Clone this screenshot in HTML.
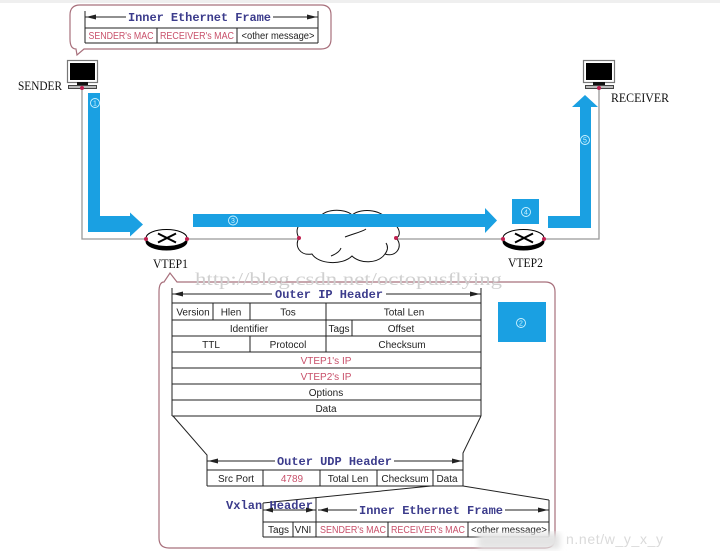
<!DOCTYPE html>
<html><head><meta charset="utf-8"><style>
html,body{margin:0;padding:0;background:#fff;}
svg{display:block;}
.t{font-family:"Liberation Sans",Arial,sans-serif;font-size:10px;fill:#222;text-anchor:middle;}
.r{fill:#c8506a;}
.h{font-family:"Liberation Mono","Courier New",monospace;font-size:12px;font-weight:bold;fill:#3c3c8c;}
.s{font-family:"Liberation Serif",serif;font-size:12.5px;fill:#111;}
.n{font-family:"Liberation Sans",sans-serif;font-size:7px;fill:#cdf2ff;text-anchor:middle;}
</style></head><body>
<svg width="720" height="551" viewBox="0 0 720 551" xmlns="http://www.w3.org/2000/svg">
<defs>
<filter id="bl"><feGaussianBlur stdDeviation="3"/></filter>
</defs>
<rect x="0" y="0" width="720" height="551" fill="#fff"/>
<rect x="0" y="0" width="720" height="3" fill="#efefef"/>

<!-- top bubble -->
<path d="M80,5 H321 Q331,5 331,15 V39 Q331,49 321,49 H84 L77,55 L76,49 Q70,49 70,39 V15 Q70,5 80,5 Z" fill="#fff" stroke="#a8707c" stroke-width="1.2"/>
<g stroke="#222" stroke-width="1" fill="none">
<line x1="85" y1="17" x2="126" y2="17"/><line x1="273" y1="17" x2="318" y2="17"/>
<line x1="85" y1="11" x2="85" y2="43"/><line x1="318" y1="11" x2="318" y2="43"/>
<line x1="85" y1="28" x2="318" y2="28"/><line x1="85" y1="43" x2="318" y2="43"/>
<line x1="157" y1="28" x2="157" y2="43"/><line x1="237" y1="28" x2="237" y2="43"/>
</g>
<polygon points="86,17 96,14.5 96,19.5" fill="#222"/><polygon points="317,17 307,14.5 307,19.5" fill="#222"/>
<text class="h" x="128" y="21" textLength="143">Inner Ethernet Frame</text>
<text class="t r" x="121" y="39" textLength="65" lengthAdjust="spacingAndGlyphs">SENDER's MAC</text>
<text class="t r" x="197" y="39" textLength="74" lengthAdjust="spacingAndGlyphs">RECEIVER's MAC</text>
<text class="t" x="278" y="39" textLength="73" lengthAdjust="spacingAndGlyphs">&lt;other message&gt;</text>

<!-- gray connectors -->
<g stroke="#999" stroke-width="1.3" fill="none">
<polyline points="82,88 82,239 146,239"/>
<line x1="187" y1="239" x2="299" y2="239"/>
<line x1="396" y1="239" x2="503" y2="239"/>
<polyline points="544,239 599,239 599,88"/>
</g>

<!-- sender monitor -->
<rect x="67.5" y="60.5" width="30" height="22" fill="#fff" stroke="#777" stroke-width="1.2"/>
<rect x="70" y="63" width="25" height="17" fill="#000"/>
<rect x="77" y="82" width="11" height="4" fill="#111"/>
<rect x="68.5" y="85.5" width="28" height="3" fill="#bbb" stroke="#444" stroke-width="1"/>
<text class="s" x="18" y="90" textLength="44" lengthAdjust="spacingAndGlyphs">SENDER</text>

<!-- receiver monitor -->
<rect x="583.5" y="60.5" width="31" height="22" fill="#fff" stroke="#777" stroke-width="1.2"/>
<rect x="586" y="63" width="26" height="17" fill="#000"/>
<rect x="593" y="82" width="12" height="4" fill="#111"/>
<rect x="585.5" y="85.5" width="28" height="3" fill="#bbb" stroke="#444" stroke-width="1"/>
<text class="s" x="611" y="102" textLength="58" lengthAdjust="spacingAndGlyphs">RECEIVER</text>

<!-- cloud -->
<path d="M299,238 C292,226 305,216 318,220 C322,208 345,208 352,215 C362,207 385,210 388,222 C400,224 402,236 396,238 C404,246 396,258 385,254 C378,264 360,264 352,256 C342,266 318,264 312,254 C300,256 294,246 299,238 Z" fill="#fff" stroke="#111" stroke-width="1"/>
<path d="M345,237 C352,234 362,232 366,229" fill="none" stroke="#111" stroke-width="1"/>
<path d="M331,256 C336,254 340,251 341,248" fill="none" stroke="#111" stroke-width="1"/>
<path d="M385,254 C388,250 388,246 386,243" fill="none" stroke="#111" stroke-width="1"/>

<!-- blue arrows -->
<polygon points="88,93 100,93 100,216 130,216 130,212.5 143,224.5 130,236.5 130,232 88,232" fill="#1aa0e2"/>
<polygon points="193,214 485,214 485,208 497,220.5 485,233 485,227 193,227" fill="#1aa0e2"/>
<rect x="512" y="199" width="27" height="25" fill="#1aa0e2"/>
<polygon points="548,216 580,216 580,107 572,107 585,95 598,107 591,107 591,228 548,228" fill="#1aa0e2"/>
<rect x="498" y="302" width="48" height="40" fill="#1aa0e2"/>

<!-- circled numbers -->
<g fill="none" stroke="#cdf2ff" stroke-width="0.9">
<circle cx="95" cy="103" r="4.5"/><circle cx="233" cy="220.5" r="4.5"/><circle cx="526" cy="212" r="4.5"/><circle cx="585" cy="140" r="4.5"/><circle cx="521" cy="323" r="4.5"/>
</g>
<text class="n" x="95" y="105.5">1</text><text class="n" x="233" y="223">3</text><text class="n" x="526" y="214.5">4</text><text class="n" x="585" y="142.5">5</text><text class="n" x="521" y="325.5">2</text>

<!-- routers -->
<ellipse cx="166.5" cy="241.5" rx="21" ry="9" fill="#000"/>
<ellipse cx="166.5" cy="238" rx="20.5" ry="8.5" fill="#fff" stroke="#000" stroke-width="1"/>
<line x1="158" y1="233.5" x2="176" y2="242.5" stroke="#000" stroke-width="2"/>
<line x1="158" y1="242.5" x2="176" y2="233.5" stroke="#000" stroke-width="2"/>
<text class="s" x="153" y="268" textLength="35" lengthAdjust="spacingAndGlyphs">VTEP1</text>

<ellipse cx="523.5" cy="241.5" rx="21" ry="9" fill="#000"/>
<ellipse cx="523.5" cy="238" rx="20.5" ry="8.5" fill="#fff" stroke="#000" stroke-width="1"/>
<line x1="515" y1="233.5" x2="533" y2="242.5" stroke="#000" stroke-width="2"/>
<line x1="515" y1="242.5" x2="533" y2="233.5" stroke="#000" stroke-width="2"/>
<text class="s" x="508" y="267" textLength="35" lengthAdjust="spacingAndGlyphs">VTEP2</text>

<!-- red dots -->
<g fill="#c02050">
<circle cx="82" cy="88" r="2"/><circle cx="146" cy="239" r="2"/><circle cx="187" cy="239" r="2"/><circle cx="299" cy="238" r="2"/><circle cx="396" cy="238" r="2"/><circle cx="503" cy="239" r="2"/><circle cx="544" cy="239" r="2"/><circle cx="599" cy="88" r="2"/>
</g>

<!-- big bubble -->
<path d="M159,292 Q159,282 164,282 L170,273 L177,282 H545 Q555,282 555,292 V538 Q555,548 545,548 H169 Q159,548 159,538 Z" fill="none" stroke="#a8707c" stroke-width="1.2"/>
<text x="195" y="285" font-family="Liberation Serif, serif" font-size="18" fill="#d0d0d0" textLength="307" lengthAdjust="spacingAndGlyphs">http://blog.csdn.net/octopusflying</text>

<!-- Outer IP header -->
<g stroke="#222" stroke-width="1" fill="none">
<line x1="172" y1="294" x2="272" y2="294"/><line x1="386" y1="294" x2="481" y2="294"/>
<line x1="172" y1="288" x2="172" y2="416"/><line x1="481" y1="288" x2="481" y2="416"/>
<line x1="172" y1="303" x2="481" y2="303"/><line x1="172" y1="320" x2="481" y2="320"/>
<line x1="172" y1="336" x2="481" y2="336"/><line x1="172" y1="352" x2="481" y2="352"/>
<line x1="172" y1="368" x2="481" y2="368"/><line x1="172" y1="384" x2="481" y2="384"/>
<line x1="172" y1="400" x2="481" y2="400"/><line x1="172" y1="416" x2="481" y2="416"/>
<line x1="213" y1="303" x2="213" y2="320"/><line x1="250" y1="303" x2="250" y2="320"/>
<line x1="326" y1="303" x2="326" y2="352"/><line x1="352" y1="320" x2="352" y2="336"/>
<line x1="250" y1="336" x2="250" y2="352"/>
<polyline points="173,416 207,455 207,486"/><polyline points="481,416 463,453 463,486"/>
</g>
<polygon points="173,294 183,291.5 183,296.5" fill="#222"/><polygon points="480,294 470,291.5 470,296.5" fill="#222"/>
<text class="h" x="275" y="298" textLength="108">Outer IP Header</text>
<text class="t" x="193" y="315.5">Version</text>
<text class="t" x="231" y="315.5">Hlen</text>
<text class="t" x="288" y="315.5">Tos</text>
<text class="t" x="404" y="315.5">Total Len</text>
<text class="t" x="249" y="332">Identifier</text>
<text class="t" x="339" y="332">Tags</text>
<text class="t" x="401" y="332">Offset</text>
<text class="t" x="211" y="348">TTL</text>
<text class="t" x="288" y="348">Protocol</text>
<text class="t" x="402" y="348">Checksum</text>
<text class="t r" x="326" y="364">VTEP1's IP</text>
<text class="t r" x="326" y="380">VTEP2's IP</text>
<text class="t" x="326" y="396">Options</text>
<text class="t" x="326" y="412">Data</text>

<!-- Outer UDP header -->
<g stroke="#222" stroke-width="1" fill="none">
<line x1="207" y1="461" x2="275" y2="461"/><line x1="394" y1="461" x2="463" y2="461"/>
<line x1="207" y1="470" x2="463" y2="470"/><line x1="207" y1="486" x2="463" y2="486"/>
<line x1="263" y1="470" x2="263" y2="486"/><line x1="320" y1="470" x2="320" y2="486"/>
<line x1="377" y1="470" x2="377" y2="486"/><line x1="433" y1="470" x2="433" y2="486"/>
<line x1="431" y1="486" x2="263" y2="503"/>
<line x1="463" y1="486" x2="549" y2="500"/>
</g>
<polygon points="208,461 218,458.5 218,463.5" fill="#222"/><polygon points="462,461 452,458.5 452,463.5" fill="#222"/>
<text class="h" x="277" y="465" textLength="115">Outer UDP Header</text>
<text class="t" x="236" y="482">Src Port</text>
<text class="t r" x="292" y="482">4789</text>
<text class="t" x="348" y="482">Total Len</text>
<text class="t" x="405" y="482">Checksum</text>
<text class="t" x="447" y="482">Data</text>

<!-- Vxlan + inner frame -->
<text class="h" x="226" y="509" textLength="87">Vxlan Header</text>
<g stroke="#222" stroke-width="1" fill="none">
<line x1="263" y1="510" x2="316" y2="510"/>
<line x1="318" y1="510" x2="357" y2="510"/><line x1="505" y1="510" x2="549" y2="510"/>
<line x1="263" y1="503" x2="263" y2="537"/><line x1="316" y1="497" x2="316" y2="537"/>
<line x1="549" y1="500" x2="549" y2="537"/>
<line x1="263" y1="522" x2="549" y2="522"/><line x1="263" y1="537" x2="549" y2="537"/>
<line x1="293" y1="522" x2="293" y2="537"/><line x1="388" y1="522" x2="388" y2="537"/>
<line x1="468" y1="522" x2="468" y2="537"/>
</g>
<polygon points="264,510 273,507.5 273,512.5" fill="#222"/><polygon points="315,510 306,507.5 306,512.5" fill="#222"/>
<polygon points="319,510 328,507.5 328,512.5" fill="#222"/><polygon points="548,510 538,507.5 538,512.5" fill="#222"/>
<text class="h" x="359" y="514" textLength="144">Inner Ethernet Frame</text>
<text class="t" x="278.5" y="533">Tags</text>
<text class="t" x="303" y="533">VNI</text>
<text class="t r" x="353" y="533" textLength="66" lengthAdjust="spacingAndGlyphs">SENDER's MAC</text>
<text class="t r" x="428" y="533" textLength="74" lengthAdjust="spacingAndGlyphs">RECEIVER's MAC</text>
<text class="t" x="509" y="533" textLength="76" lengthAdjust="spacingAndGlyphs">&lt;other message&gt;</text>

<!-- bottom watermark smudge -->
<rect x="478" y="533" width="82" height="16" fill="#e4e4e4" filter="url(#bl)"/>
<text x="566" y="544" font-family="Liberation Sans, sans-serif" font-size="14" fill="#dadada" textLength="97">n.net/w_y_x_y</text>
</svg>
</body></html>
